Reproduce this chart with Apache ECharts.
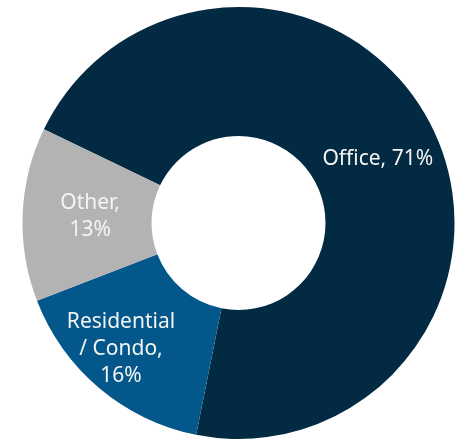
<!DOCTYPE html>
<html>
<head>
<meta charset="utf-8">
<style>
  html, body { margin: 0; padding: 0; background: #ffffff; }
  #chart { width: 458px; height: 440px; }
</style>
<script src="https://cdn.jsdelivr.net/npm/echarts@6/dist/echarts.min.js"></script>
</head>
<body>
<div id="chart"></div>
<script>
// Share of space by property use
const categories = ['Office', 'Residential\n/ Condo', 'Other'];
const shares = [71, 16, 13];
const colors = ['#032a43', '#03578a', '#b3b3b3'];
// joiner between name and percentage (single line or wrapped)
const labelJoin = [', ', ',\n', ',\n'];
// small nudges for where each label sits inside its slice
const labelOffsets = [[1, 5], [-18, 8], [6, 0]];

const chart = echarts.init(document.getElementById('chart'), null, { renderer: 'canvas' });

const data = categories.map((name, i) => ({
  name: name,
  value: shares[i],
  itemStyle: { color: colors[i] },
  label: {
    offset: labelOffsets[i],
    formatter: p => p.name + labelJoin[i] + p.value + '%'
  }
}));

chart.setOption({
  animation: false,
  series: [{
    type: 'pie',
    center: [238.5, 223],
    radius: [87, 216],
    startAngle: 154.3,
    clockwise: true,
    avoidLabelOverlap: false,
    itemStyle: { borderWidth: 0 },
    label: {
      show: true,
      position: 'inside',
      color: '#f4f4f4',
      fontFamily: '"Noto Sans", sans-serif',
      fontSize: 21,
      lineHeight: 27,
      align: 'center'
    },
    labelLine: { show: false },
    emphasis: { disabled: true },
    data: data
  }]
});
</script>
</body>
</html>
